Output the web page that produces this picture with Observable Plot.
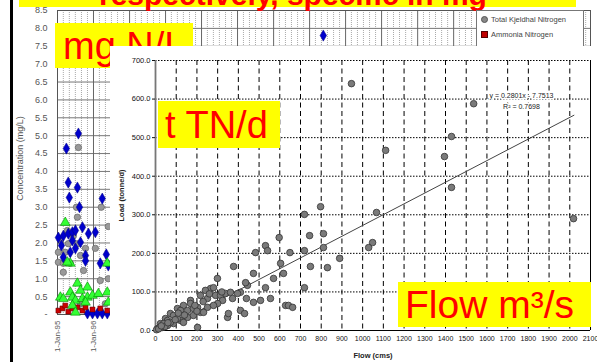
<!DOCTYPE html>
<html><head><meta charset="utf-8">
<script src="https://cdn.jsdelivr.net/npm/d3@7"></script>
<script src="https://cdn.jsdelivr.net/npm/@observablehq/plot@0.6"></script>
<style>
body{margin:0;background:#fff;}
#wrap{position:relative;width:597px;height:362px;overflow:hidden;background:#fff;font-family:"Liberation Sans",Arial,sans-serif;}
.abs{position:absolute;}
.yb{position:absolute;background:#ffff00;overflow:hidden;}
.yb span{position:absolute;color:#ff0000;font-family:"Liberation Sans",Arial,sans-serif;white-space:pre;line-height:1;}
#legend{position:absolute;left:476px;top:10px;width:106px;height:50px;background:#fff;border:1px solid #777;font-size:7.5px;color:#444;}
#legend div{position:absolute;left:4px;white-space:nowrap;}
#legend i{display:inline-block;width:5px;height:5px;margin-right:3px;vertical-align:-0.5px;}
</style></head><body>
<div id="wrap">
  <div id="bg" class="abs" style="left:0;top:0;width:597px;height:362px"></div>
  <div class="abs" style="left:10px;top:0;width:3px;height:362px;background:#000"></div>
  <div class="abs" style="left:19px;top:0;width:557px;height:7px;background:#ffff00;overflow:visible">
    <span style="position:absolute;left:80px;top:-20px;font-size:30px;font-weight:bold;color:#ff0000;white-space:pre;line-height:1">respectively, specific in mg</span>
  </div>
  <div id="legend">
    <div style="top:4px"><i style="background:#888;border-radius:50%;border:0.5px solid #555"></i>Total Kjeldhal Nitrogen</div>
    <div style="top:19px"><i style="background:#c00000;border:0.5px solid #500"></i>Ammonia Nitrogen</div>
  </div>
  <div class="yb" style="left:55px;top:23px;width:138px;height:45px"><span style="left:8px;top:4px;font-size:38px">mg N/L</span></div>
  <div id="fg" class="abs" style="left:110px;top:46px;width:484px;height:316px;background:#fff"></div>
  <div class="yb" style="left:158px;top:101px;width:122px;height:47px"><span style="left:7px;top:5px;font-size:38px">t TN/d</span></div>
  <div class="yb" style="left:398px;top:282px;width:193px;height:45px"><span style="left:7px;top:3px;font-size:39px">Flow m³/s</span></div>
</div>
<script>
// ---------- Background chart: concentrations (mg/L) ----------
const concTicks = [0,0.5,1,1.5,2,2.5,3,3.5,4,4.5,5,5.5,6,6.5,7,7.5,8,8.5];
const tnDates = ["1995-04-01","1995-08-01","1995-04-20","1995-05-01","1995-07-22","1995-08-12","1996-03-30","1995-01-10","1995-03-01","1995-04-21","1995-06-01","1995-07-02","1995-09-11","1995-11-11","1996-01-20","1995-02-10","1995-06-01","1995-08-22","1995-07-02","1995-05-11","1995-03-01","1995-10-12","1995-10-12","1996-03-10","1996-05-10","1996-05-30","1995-11-01","1995-12-22","1996-02-10","1996-03-30","1996-05-20","2002-05-20"];
const tnValues = [4.64,5.06,3.69,3.27,3.55,3.0,3.24,2.15,2.2,2.26,2.3,2.35,2.44,2.26,2.3,1.93,2.07,2.02,1.85,1.74,1.6,1.65,1.5,1.43,1.68,1.37,0.03,0.03,0.03,0.03,0.03,7.8];
const tknDates = ["1995-08-01","1995-07-12","1996-03-20","1995-07-22","1996-05-30","1995-04-11","1995-06-11","1995-01-30","1995-04-21","1995-07-22","1995-10-12","1996-01-20","1995-01-10","1995-03-21","1995-08-22","1995-01-10","1995-03-01","1995-05-11","1995-03-01","1995-09-22","1996-03-10","1996-05-30","1996-04-30","1995-08-22"];
const tknValues = [4.67,3.0,3.0,2.72,2.46,2.35,2.2,2.07,1.98,1.98,1.85,1.85,1.74,1.74,1.65,1.46,1.43,1.43,1.18,1.23,0.95,1.0,0.3,0.3];
const no3Dates = ["1995-03-21","1995-05-11","1995-04-11","1996-05-20","1995-07-22","1995-11-01","1995-05-11","1995-08-22","1995-01-30","1995-03-01","1995-06-01","1995-07-02","1995-09-11","1995-11-01","1995-12-22","1996-02-20","1996-05-20","1995-06-01","1995-10-12","1996-05-30","1995-07-02"];
const no3Values = [2.57,1.43,1.46,1.43,0.87,0.76,0.62,0.67,0.48,0.44,0.48,0.39,0.44,0.48,0.53,0.58,0.62,0.25,0.34,0.34,0.06];
const nh3Dates = ["1995-01-10","1995-02-20","1995-03-21","1995-04-21","1995-06-01","1995-07-22","1995-09-11","1995-10-12","1995-12-22","1996-03-10","1996-05-20"];
const nh3Values = [0.11,0.17,0.25,0.08,0.17,0.2,0.11,0.2,0.14,0.17,0.11];
const dateDomain = ["1995-01-01","2009-10-20"];

// ---------- Foreground chart: load vs flow ----------
const loadTicks = [0,100,200,300,400,500,600,700];
const flowTicks = [0,100,200,300,400,500,600,700,800,900,1000,1100,1200,1300,1400,1500,1600,1700,1800,1900,2000,2100];
const flow = [946,1536,1429,1111,1395,1429,797,719,1067,2018,744,811,1048,1029,811,719,649,748,830,889,719,628,642,662,
  597,531,541,483,604,618,570,531,555,507,473,444,435,377,299,410,439,410,430,348,352,203,473,396,
  266,280,290,241,217,169,135,106,72,48,24,169,203,251,314,338,362,324,300,372,121,87,58,34,155,183,217,121,87,58,135,251,280,232,10,19,39,72,106,155,183,45,60,95,140,190,230,260,320,5,15,28,110,200];
const load = [640,588,503,467,451,371,321,301,306,290,246,251,228,215,215,207,202,166,163,187,111,65,65,60,
  241,220,207,202,174,148,135,111,83,78,73,117,124,166,135,99,83,52,44,34,44,8,148,96,
  109,111,91,104,91,78,65,57,44,31,18,70,60,83,91,96,99,78,70,83,52,39,26,8,34,39,47,26,18,13,21,60,65,47,5,8,18,21,31,52,57,10,20,28,40,65,75,95,100,2,4,12,45,50];
const fitSlope = 0.2801, fitIntercept = -7.7513, fitFlowRange = [28, 2020];
const fitLabels = ["y = 0.2801x - 7.7513", "R\u00b2 = 0.7698"];

const font = '"Liberation Sans", Arial, sans-serif';
const pd = s => new Date(s + "T00:00:00Z");
const mk = (ds, vs) => ds.map((d, i) => ({date: pd(d), value: vs[i]}));
const tn = mk(tnDates, tnValues), tkn = mk(tknDates, tknValues), no3 = mk(no3Dates, no3Values), nh3 = mk(nh3Dates, nh3Values);
const xd = dateDomain.map(pd);
const yearTicks = d3.utcYear.range(xd[0], xd[1]);
const minorTicks = d3.utcMonth.every(2).range(xd[0], xd[1]).filter(d => d.getUTCMonth() !== 0);

const bg = Plot.plot({
  width: 597, height: 362,
  marginLeft: 57, marginRight: 7, marginTop: 10, marginBottom: 48,
  style: {fontFamily: font, fontSize: "9px", color: "#555", background: "#fff"},
  x: {type: "utc", domain: xd},
  y: {domain: [0, 8.5]},
  marks: [
    Plot.gridX(minorTicks, {stroke: "#aaa", strokeOpacity: 1, strokeDasharray: "1,1"}),
    Plot.gridY(concTicks, {stroke: "#777", strokeOpacity: 1}),
    Plot.gridX(yearTicks, {stroke: "#666", strokeOpacity: 1}),
    Plot.frame({stroke: "#555"}),
    Plot.axisY(concTicks, {tickSize: 0, tickPadding: 10, tickFormat: d => d === 0 ? "-" : d.toFixed(1), label: null}),
    Plot.axisX(yearTicks, {tickSize: 0, tickPadding: 6, tickRotate: -90, tickFormat: d3.utcFormat("%-d-%b-%y"), fontSize: 8, label: null}),
    Plot.text(["Concentration (mg/L)"], {frameAnchor: "left", textAnchor: "middle", rotate: -90, dx: -37, dy: -4, fontSize: 9, fill: "#555"}),
    Plot.dot(tkn, {x: "date", y: "value", r: 3.2, fill: "#999", stroke: "#666", strokeWidth: 0.7}),
    Plot.dot(tn, {x: "date", y: "value", symbol: "diamond", r: 3.4, fill: "#0000cc", stroke: "#000080", strokeWidth: 0.5}),
    Plot.dot(nh3, {x: "date", y: "value", symbol: "square", r: 2.8, fill: "#cc0000", stroke: "#550000", strokeWidth: 0.5}),
    Plot.dot(no3, {x: "date", y: "value", symbol: "triangle", r: 3.6, fill: "#33ff33", stroke: "#008800", strokeWidth: 0.6})
  ]
});
document.getElementById("bg").appendChild(bg);

const pts = flow.map((f, i) => ({flow: f, load: load[i]}));
const fit = fitFlowRange.map(f => ({flow: f, load: fitSlope * f + fitIntercept}));

const fg = Plot.plot({
  width: 484, height: 316,
  marginLeft: 45, marginRight: 4, marginTop: 14, marginBottom: 32,
  style: {fontFamily: font, fontSize: "7px", color: "#111", background: "#fff", overflow: "visible"},
  x: {domain: [0, 2100]},
  y: {domain: [0, 700]},
  marks: [
    Plot.gridY(loadTicks.filter(d => d > 0), {stroke: "#000", strokeOpacity: 1, strokeDasharray: "1.5,1.5"}),
    Plot.gridX(flowTicks.filter(d => d > 0 && d < 2100), {stroke: "#000", strokeOpacity: 1, strokeDasharray: "5,3.5"}),
    Plot.ruleX([2100], {stroke: "#000"}),
    Plot.ruleY([0], {stroke: "#000"}),
    Plot.ruleX([0], {stroke: "#777", strokeWidth: 1.8}),
    Plot.axisY(loadTicks, {tickSize: 3, tickPadding: 2, tickFormat: d3.format(".1f"), fontSize: 7.5, label: null}),
    Plot.axisX(flowTicks, {tickSize: 0, tickPadding: 6, tickFormat: d3.format("d"), label: null}),
    Plot.line(fit, {x: "flow", y: "load", stroke: "#444", strokeWidth: 1}),
    Plot.dot(pts, {x: "flow", y: "load", r: 3.3, fill: "#7a7a7a", stroke: "#333", strokeWidth: 0.8}),
    Plot.text([fitLabels[0]], {frameAnchor: "top-right", textAnchor: "middle", dx: -69, dy: 33, fontSize: 7, fill: "#222", stroke: "#fff", strokeWidth: 3}),
    Plot.text([fitLabels[1]], {frameAnchor: "top-right", textAnchor: "middle", dx: -69, dy: 44, fontSize: 7, fill: "#222", stroke: "#fff", strokeWidth: 3}),
    Plot.text(["Flow (cms)"], {frameAnchor: "bottom", dy: 27, fontSize: 7.5, fontWeight: "bold", fill: "#222"}),
    Plot.text(["Load (tonne/d)"], {frameAnchor: "left", textAnchor: "middle", rotate: -90, dx: -34, fontSize: 7.5, fontWeight: "bold", fill: "#222"})
  ]
});
document.getElementById("fg").appendChild(fg);
</script>
</body></html>
